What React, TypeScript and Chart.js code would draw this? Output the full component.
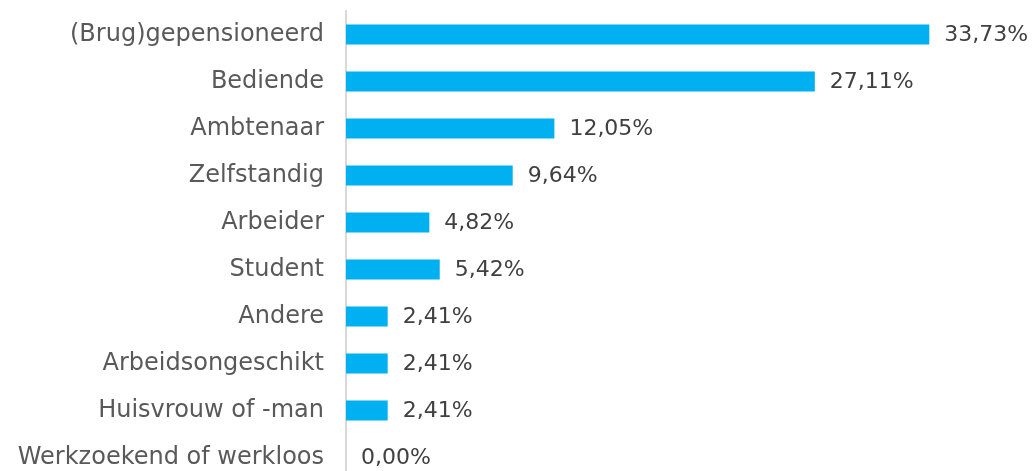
import React, { useEffect, useRef } from "react";
import { Chart, registerables } from "chart.js";

Chart.register(...registerables);

const categories = [
  "(Brug)gepensioneerd",
  "Bediende",
  "Ambtenaar",
  "Zelfstandig",
  "Arbeider",
  "Student",
  "Andere",
  "Arbeidsongeschikt",
  "Huisvrouw of -man",
  "Werkzoekend of werkloos",
];
const values = [33.73, 27.11, 12.05, 9.64, 4.82, 5.42, 2.41, 2.41, 2.41, 0.0];
const valueLabels = ["33,73%", "27,11%", "12,05%", "9,64%", "4,82%", "5,42%", "2,41%", "2,41%", "2,41%", "0,00%"];

const FONT = "'DejaVu Sans', Verdana, sans-serif";

const dataLabelPlugin = {
  id: "dataLabels",
  afterDatasetsDraw(chart: any) {
    const { ctx } = chart;
    const meta = chart.getDatasetMeta(0);
    ctx.save();
    ctx.font = `22px ${FONT}`;
    ctx.fillStyle = "#404040";
    ctx.textAlign = "left";
    ctx.textBaseline = "middle";
    meta.data.forEach((bar: any, i: number) => {
      ctx.fillText(valueLabels[i], bar.x + 15, bar.y + 1);
    });
    ctx.restore();
  },
};

export default function App() {
  const ref = useRef<HTMLCanvasElement | null>(null);
  useEffect(() => {
    if (!ref.current) return;
    const chart = new Chart(ref.current, {
      type: "bar",
      data: {
        labels: categories,
        datasets: [
          {
            data: values,
            backgroundColor: "#00B0F0",
            borderWidth: 0,
            categoryPercentage: 1,
            barPercentage: 0.43,
          },
        ],
      },
      options: {
        indexAxis: "y",
        animation: false,
        responsive: false,
        maintainAspectRatio: false,
        devicePixelRatio: 1,
        layout: { padding: { top: 11, right: 0, bottom: 0, left: 0 } },
        plugins: { legend: { display: false }, tooltip: { enabled: false } },
        scales: {
          x: { display: false, min: 0, max: 39.9 },
          y: {
            afterFit: (scale: any) => {
              scale.width = 346;
              scale.paddingTop = 0;
              scale.paddingBottom = 0;
            },
            grid: { display: false, drawTicks: false },
            border: { display: true, color: "#d9d9d9", width: 2 },
            ticks: {
              padding: 22,
              color: "#595959",
              font: { family: FONT, size: 24 },
            },
          },
        },
      },
      plugins: [dataLabelPlugin],
    });
    return () => chart.destroy();
  }, []);
  return (
    <div style={{ position: "fixed", left: 0, top: 0, width: 1036, height: 471, overflow: "hidden", background: "#fff" }}>
      <canvas ref={ref} width={1036} height={481} style={{ display: "block", width: 1036, height: 481 }} />
    </div>
  );
}
